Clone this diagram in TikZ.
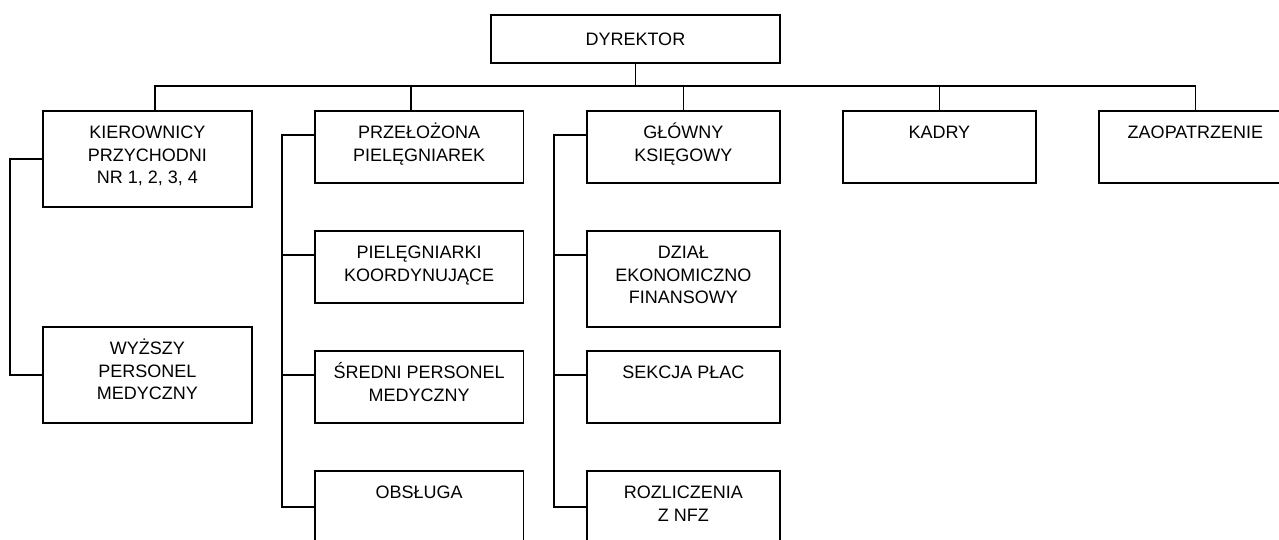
\documentclass[tikz,border=0pt]{standalone}
\usepackage{fontspec}
\setmainfont{Liberation Sans}
\begin{document}
\begin{tikzpicture}[x=1pt,y=-1pt,
  box/.style={draw, line width=1.8pt, inner sep=0pt, anchor=north west},
  lbl/.style={inner sep=0pt, align=center, anchor=base, font=\fontsize{18}{22.5}\selectfont},
  conn/.style={line width=1.8pt}]
\useasboundingbox (0,0) rectangle (1279,539);
% boxes
\node[box, minimum width=289pt, minimum height=48pt] (dyr) at (490,14) {};
\node[box, minimum width=209pt, minimum height=96pt] (kier) at (42,110) {};
\node[box, minimum width=209pt, minimum height=96pt] (wyz) at (42,326) {};
\node[box, minimum width=208.5pt, minimum height=72pt] (prz) at (314,110) {};
\node[box, minimum width=208.5pt, minimum height=72pt] (pk) at (314,230) {};
\node[box, minimum width=208.5pt, minimum height=72pt] (sr) at (314,350) {};
\node[box, minimum width=208.5pt, minimum height=96pt] (obs) at (314,470) {};
\node[box, minimum width=193pt, minimum height=72pt] (gk) at (586,110) {};
\node[box, minimum width=193pt, minimum height=96pt] (dz) at (586,230) {};
\node[box, minimum width=193pt, minimum height=72pt] (sp) at (586,350) {};
\node[box, minimum width=193pt, minimum height=96pt] (roz) at (586,470) {};
\node[box, minimum width=193pt, minimum height=72pt] (kad) at (842,110) {};
\node[box, minimum width=193pt, minimum height=72pt] (zao) at (1098,110) {};
% texts (anchor = baseline of last line)
\node[inner sep=0pt, font=\fontsize{18}{22.5}\selectfont] (dyrt) at (dyr.center) {DYREKTOR};
\node[lbl] (kiert) at ([yshift=-73.5pt]kier.north) {KIEROWNICY\\PRZYCHODNI\\NR 1, 2, 3, 4};
\node[lbl] (wyzt) at ([yshift=-73.5pt]wyz.north) {WYŻSZY\\PERSONEL\\MEDYCZNY};
\node[lbl] (przt) at ([yshift=-51pt]prz.north) {PRZEŁOŻONA\\PIELĘGNIAREK};
\node[lbl] (pkt) at ([yshift=-51pt]pk.north) {PIELĘGNIARKI\\KOORDYNUJĄCE};
\node[lbl] (srt) at ([yshift=-51pt]sr.north) {ŚREDNI PERSONEL\\MEDYCZNY};
\node[lbl] (obst) at ([yshift=-28.5pt]obs.north) {OBSŁUGA};
\node[lbl] (gkt) at ([yshift=-51pt]gk.north) {GŁÓWNY\\KSIĘGOWY};
\node[lbl] (dzt) at ([yshift=-73.5pt]dz.north) {DZIAŁ\\EKONOMICZNO\\FINANSOWY};
\node[lbl] (spt) at ([yshift=-28.5pt]sp.north) {SEKCJA PŁAC};
\node[lbl] (rozt) at ([yshift=-51pt]roz.north) {ROZLICZENIA\\Z NFZ};
\node[lbl] (kadt) at ([yshift=-28.5pt]kad.north) {KADRY};
\node[lbl] (zaot) at ([yshift=-28.5pt]zao.north) {ZAOPATRZENIE};
% connectors
\coordinate (bus) at (0,86);
\draw[conn] (dyr.south) -- (dyr.south |- bus);
\draw[conn] ([xshift=7.5pt]kier.north) -- ([xshift=7.5pt]kier.north |- bus) -- (zao.north |- bus) -- (zao.north);
\draw[conn] ([xshift=-8.5pt]prz.north) -- ([xshift=-8.5pt]prz.north |- bus);
\draw[conn] (gk.north) -- (gk.north |- bus);
\draw[conn] (kad.north) -- (kad.north |- bus);
\draw[conn] (kier.west) -- ++(-32,0) |- (wyz.west);
\draw[conn] ([yshift=12pt]prz.west) -- ++(-32,0) |- ([yshift=12pt]obs.west);
\draw[conn] ([yshift=12pt]pk.west) -- ++(-32,0);
\draw[conn] ([yshift=12pt]sr.west) -- ++(-32,0);
\draw[conn] ([yshift=12pt]gk.west) -- ++(-32,0) |- ([yshift=12pt]roz.west);
\draw[conn] ([yshift=24pt]dz.west) -- ++(-32,0);
\draw[conn] ([yshift=12pt]sp.west) -- ++(-32,0);
\end{tikzpicture}
\end{document}
